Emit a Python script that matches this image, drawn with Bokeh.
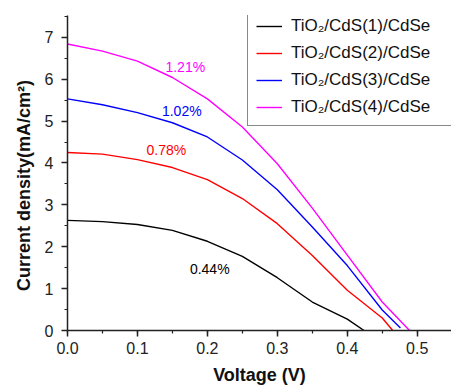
from bokeh.plotting import figure
from bokeh.models import (Range1d, SingleIntervalTicker, PrintfTickFormatter,
                          Legend, LegendItem, Label)
from bokeh.embed import file_html
from bokeh.resources import INLINE

# ---- data ----
v1 = [0.0, 0.05, 0.10, 0.15, 0.20, 0.25, 0.30, 0.35, 0.40, 0.424]
j1 = [2.63, 2.60, 2.53, 2.39, 2.13, 1.77, 1.26, 0.68, 0.27, 0.0]

v2 = [0.0, 0.05, 0.10, 0.15, 0.20, 0.25, 0.30, 0.35, 0.40, 0.45, 0.465]
j2 = [4.25, 4.21, 4.08, 3.89, 3.60, 3.15, 2.55, 1.79, 0.96, 0.30, 0.0]

v3 = [0.0, 0.05, 0.10, 0.15, 0.20, 0.25, 0.30, 0.35, 0.40, 0.45, 0.476]
j3 = [5.53, 5.39, 5.20, 4.96, 4.62, 4.07, 3.36, 2.47, 1.55, 0.49, 0.06]

v4 = [0.0, 0.05, 0.10, 0.15, 0.20, 0.25, 0.30, 0.35, 0.40, 0.45, 0.489]
j4 = [6.84, 6.67, 6.43, 6.04, 5.53, 4.86, 3.98, 2.92, 1.80, 0.68, 0.0]

names = ["TiO\u2082/CdS(1)/CdSe", "TiO\u2082/CdS(2)/CdSe",
         "TiO\u2082/CdS(3)/CdSe", "TiO\u2082/CdS(4)/CdSe"]
colors = ["#000000", "#ff0000", "#0000ff", "#ff00ff"]
efficiencies = ["0.44%", "0.78%", "1.02%", "1.21%"]
eff_x = [0.175, 0.113, 0.135, 0.140]
eff_y = [1.46, 4.30, 5.25, 6.28]

FONT = "Liberation Sans"

p = figure(width=451, height=388, output_backend="svg", toolbar_location=None,
           x_range=Range1d(0, 0.549), y_range=Range1d(0, 7.52),
           min_border_left=67, min_border_top=15, min_border_right=0,
           min_border_bottom=58)
p.outline_line_color = None
p.xgrid.visible = False
p.ygrid.visible = False
p.background_fill_color = "white"
p.border_fill_color = "white"

renderers = []
for v, j, c in zip([v1, v2, v3, v4], [j1, j2, j3, j4], colors):
    r = p.line(v, j, line_color=c, line_width=1.4)
    renderers.append(r)

for ax in (p.xaxis[0], p.yaxis[0]):
    ax.axis_line_width = 1.5
    ax.axis_line_color = "#222222"
    ax.major_tick_line_color = "#222222"
    ax.minor_tick_line_color = "#222222"
    ax.major_tick_line_width = 1.5
    ax.minor_tick_line_width = 1.2
    ax.major_tick_in = 0
    ax.major_tick_out = 6
    ax.minor_tick_in = 0
    ax.minor_tick_out = 3
    ax.major_label_text_font = FONT
    ax.major_label_text_font_size = "16px"
    ax.major_label_text_color = "#222222"
    ax.axis_label_text_font = FONT
    ax.axis_label_text_font_size = "18px"
    ax.axis_label_text_font_style = "bold"
    ax.axis_label_text_color = "#111111"

p.xaxis[0].ticker = SingleIntervalTicker(interval=0.1, num_minor_ticks=2)
p.xaxis[0].formatter = PrintfTickFormatter(format="%.1f")
p.yaxis[0].ticker = SingleIntervalTicker(interval=1, num_minor_ticks=2)
p.xaxis[0].axis_label = "Voltage (V)"
p.yaxis[0].axis_label = "Current density(mA/cm\u00b2)" + "\u00a0" * 5
p.xaxis[0].major_label_standoff = 5
p.xaxis[0].axis_label_standoff = 8
p.yaxis[0].major_label_standoff = 8
p.yaxis[0].axis_label_standoff = 8

for t, x, y, c in zip(efficiencies, eff_x, eff_y, colors):
    p.add_layout(Label(x=x, y=y, text=t, text_color=c, text_font=FONT,
                       text_font_size="14px", text_baseline="middle",
                       text_align="left"))

legend = Legend(items=[LegendItem(label=n, renderers=[r]) for n, r in zip(names, renderers)],
                location=(180, 204), margin=0, padding=8, spacing=7,
                label_height=20, glyph_height=20, glyph_width=26,
                label_standoff=9, label_width=170,
                label_text_font=FONT, label_text_font_size="17px",
                label_text_color="#111111",
                border_line_color="#111111", border_line_width=1.2,
                background_fill_color="white", background_fill_alpha=1.0)
p.add_layout(legend)

open("out.html", "w").write(file_html(p, INLINE))
